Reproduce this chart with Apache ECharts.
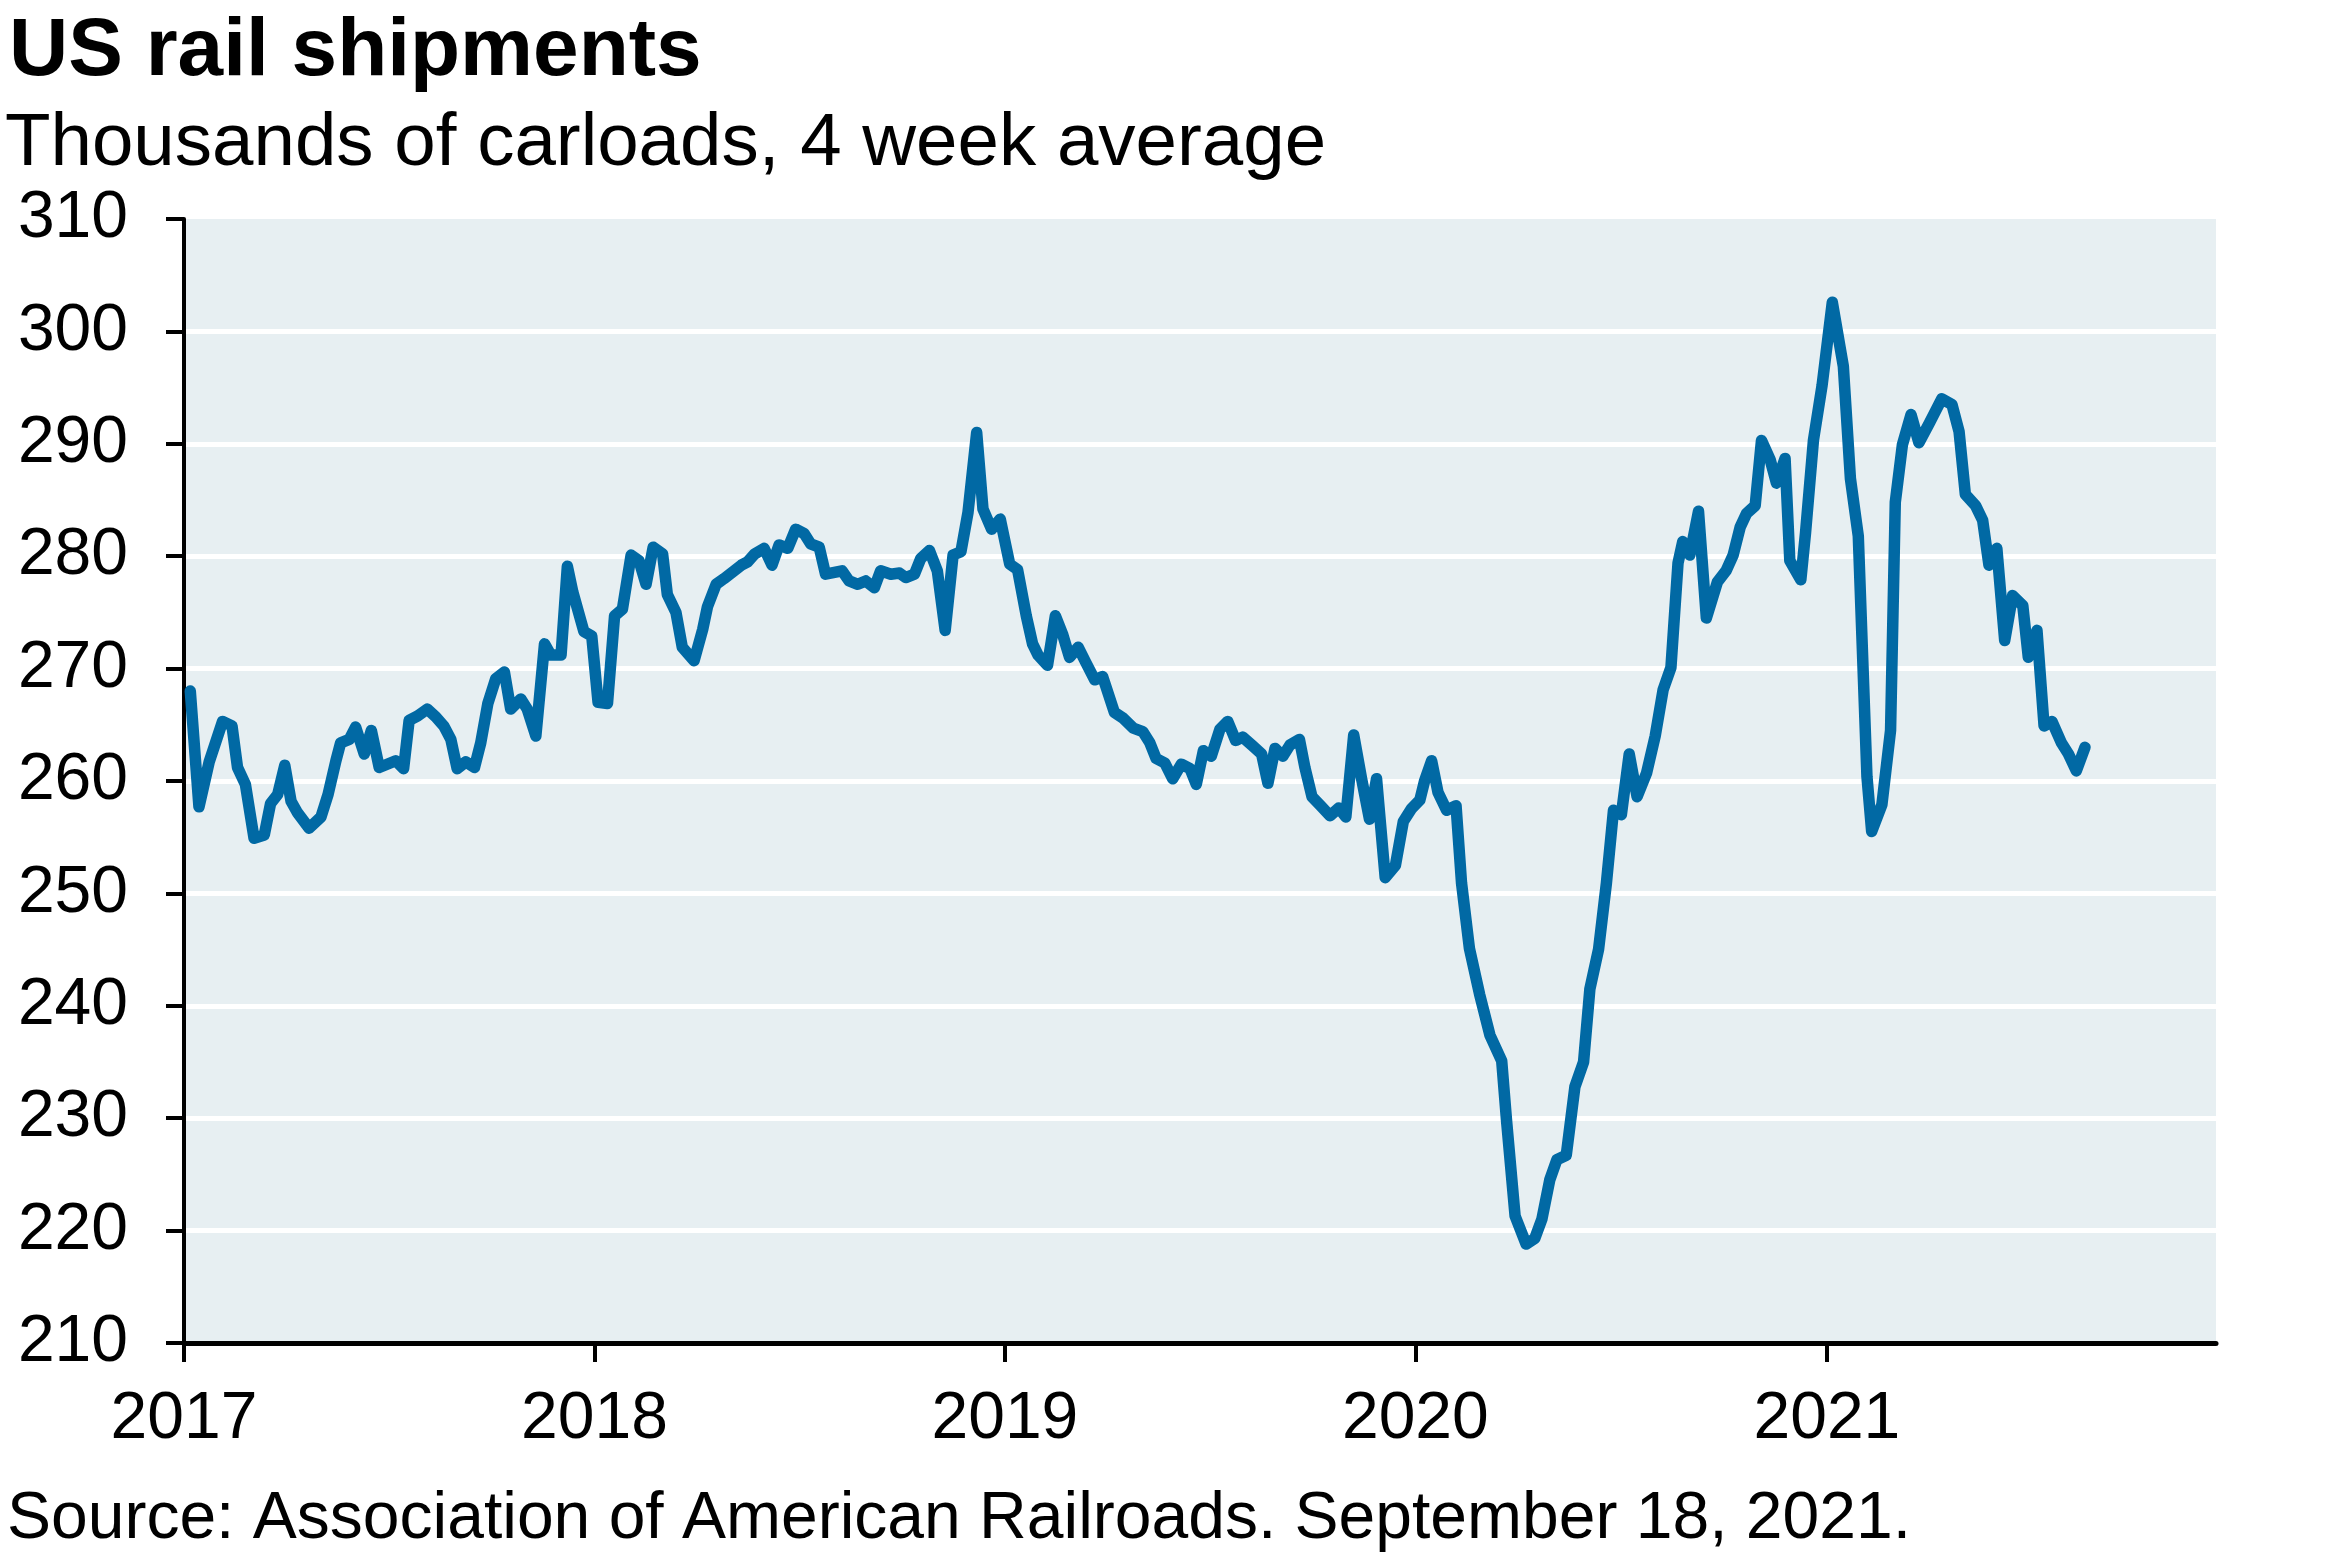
<!DOCTYPE html>
<html>
<head>
<meta charset="utf-8">
<title>US rail shipments</title>
<script src="https://cdn.jsdelivr.net/npm/echarts@6/dist/echarts.min.js"></script>
<style>
  html, body { margin: 0; padding: 0; background: #fff; }
  #chart { width: 2341px; height: 1560px; }
</style>
</head>
<body>
<div id="chart"></div>
<script>
// weekly readings, x = weeks after 1 Jan 2017
const weeksSince2017 = [
  0.8, 1.9, 3.2, 4.9, 6.1, 6.8, 7.8, 8.9, 10.2, 11.0, 11.9, 12.8, 13.6, 14.4, 15.9,
  17.4, 18.3, 19.3, 19.9, 21.0, 21.8, 22.9, 23.8, 24.8, 26.9, 27.9, 28.6, 29.7, 30.9,
  32.0, 33.0, 33.9, 34.7, 35.8, 36.9, 37.7, 38.6, 39.6, 40.7, 41.5, 42.8, 43.6, 44.7,
  45.8, 46.6, 47.9, 48.7, 49.4, 50.8, 51.8, 52.6, 53.8, 54.7, 55.7, 56.8, 57.8, 58.7,
  59.6, 60.8, 61.4, 62.5, 63.3, 64.8, 65.9, 66.5, 67.6, 68.6, 69.7, 70.8, 71.6, 72.5,
  73.7, 74.7, 75.6, 76.7, 77.7, 78.8, 79.6, 80.7, 81.5, 83.6, 84.5, 85.6, 86.6, 87.7,
  88.5, 89.8, 90.9, 91.7, 92.8, 93.6, 94.7, 95.7, 96.7, 97.7, 98.7, 99.6, 100.7, 101.5,
  102.6, 103.7, 104.9, 105.9, 107.0, 107.8, 108.5, 109.7, 110.7, 111.6, 112.5, 113.6,
  114.6, 115.7, 116.7, 118.2, 119.3, 120.6, 121.8, 122.7, 123.5, 124.6, 125.6, 126.7,
  127.8, 128.6, 129.5, 130.5, 131.6, 132.6, 133.6, 134.5, 135.8, 136.9, 137.7, 138.6,
  139.6, 140.5, 141.7, 142.4, 143.3, 144.4, 145.6, 146.7, 147.6, 148.6, 149.6, 150.6,
  151.5, 152.6, 153.9, 154.9, 155.9, 157.0, 157.6, 158.5, 159.3, 160.4, 161.6, 162.3,
  163.3, 164.6, 165.9, 167.4, 168.0, 169.1, 170.5, 171.6, 172.5, 173.5, 174.4, 175.6,
  176.7, 177.8, 178.6, 179.7, 180.7, 181.6, 182.6, 183.6, 184.6, 185.8, 186.9, 187.9,
  188.9, 189.8, 190.4, 191.3, 192.4, 193.4, 194.8, 195.9, 196.8, 197.7, 198.5, 199.6,
  200.4, 201.5, 202.3, 203.4, 204.0, 205.4, 206.0, 207.0, 208.1, 209.4, 210.8, 211.7,
  212.7, 213.8, 214.4, 215.7, 216.8, 217.4, 218.3, 219.4, 220.4, 221.7, 223.3, 224.6,
  225.5, 226.3, 227.6, 228.5, 229.3, 230.3, 231.3, 232.3, 233.6, 234.3, 235.4, 236.3,
  237.3, 238.5, 239.4, 240.4, 241.5
];

// thousands of carloads, 4 week average
const carloads = [
  268.0, 257.7, 261.7, 265.3, 264.9, 261.2, 259.7, 254.9, 255.2, 258.0, 258.8, 261.4, 258.2, 257.2, 255.8,
  256.8, 258.8, 261.8, 263.4, 263.7, 264.8, 262.4, 264.5, 261.2, 261.8, 261.1, 265.4, 265.8, 266.4,
  265.7, 264.9, 263.7, 261.1, 261.7, 261.2, 263.4, 266.9, 269.1, 269.7, 266.4, 267.3, 266.4, 264.0,
  272.2, 271.2, 271.2, 279.1, 276.8, 273.3, 272.9, 267.0, 266.9, 274.7, 275.3, 280.1, 279.6, 277.5,
  280.8, 280.2, 276.6, 275.0, 271.9, 270.7, 273.5, 275.5, 277.5, 278.0, 278.6, 279.2, 279.5, 280.2,
  280.7, 279.2, 281.0, 280.7, 282.4, 282.0, 281.1, 280.8, 278.4, 278.7, 277.8, 277.5, 277.8, 277.2,
  278.7, 278.4, 278.5, 278.1, 278.4, 279.8, 280.5, 278.7, 273.4, 280.1, 280.4, 283.9, 291.0, 284.2,
  282.4, 283.3, 279.3, 278.8, 274.7, 272.2, 271.2, 270.3, 274.7, 273.1, 271.0, 271.9,
  270.5, 269.0, 269.3, 266.1, 265.6, 264.7, 264.4, 263.4, 262.0, 261.6, 260.2, 261.5,
  261.1, 259.7, 262.7, 262.2, 264.6, 265.3, 263.6, 263.9, 263.1, 262.4, 259.8, 262.9,
  262.2, 263.2, 263.7, 261.2, 258.6, 257.8, 256.9, 257.6, 256.8, 264.1, 260.2, 256.6,
  260.2, 251.4, 252.5, 256.4, 257.5, 258.3, 260.0, 261.8, 259.0, 257.4, 257.8, 250.9,
  245.1, 241.0, 237.4, 235.1, 229.9, 221.3, 218.8, 219.3, 221.0, 224.5, 226.3, 226.7,
  232.8, 235.0, 241.5, 245.0, 250.9, 257.4, 257.0, 262.4, 258.6, 260.7, 264.0, 268.1,
  270.1, 279.4, 281.3, 280.1, 284.0, 274.5, 277.7, 278.7, 280.1, 282.6, 283.8, 284.5,
  290.3, 288.6, 286.5, 288.7, 279.6, 277.9, 282.1, 290.3, 295.2, 302.6, 296.9, 286.9,
  281.8, 260.4, 255.5, 257.9, 264.5, 284.8, 289.9, 292.6, 290.1, 291.8, 294.0, 293.5,
  291.1, 285.5, 284.5, 283.2, 279.2, 280.7, 272.5, 276.5, 275.6, 271.0, 273.4, 264.9,
  265.3, 263.4, 262.4, 260.9, 263.0
];

const yearTicks = [2017, 2018, 2019, 2020, 2021];

const START = new Date(2017, 0, 1).getTime();
const WEEK = 7 * 24 * 3600 * 1000;
const toWeeks = d => (d.getTime() - START) / WEEK;
const tickWeeks = yearTicks.map(y => toWeeks(new Date(y, 0, 1)));
const seriesData = weeksSince2017.map((w, i) => [w, carloads[i]]);

// label a tick with the year whose 1 January sits closest to it
const yearOf = v => {
  let bestIdx = 0;
  tickWeeks.forEach((t, i) => {
    if (Math.abs(t - v) < Math.abs(tickWeeks[bestIdx] - v)) bestIdx = i;
  });
  return String(yearTicks[bestIdx]);
};

const FONT = '"Liberation Sans", Arial, sans-serif';

const chart = echarts.init(document.getElementById('chart'), null, { renderer: 'canvas' });

chart.setOption({
  animation: false,
  backgroundColor: '#ffffff',
  title: [
    {
      text: 'US rail shipments',
      left: 4, top: 6,
      textStyle: { fontFamily: FONT, fontSize: 82, fontWeight: 'bold', color: '#000' }
    },
    {
      text: 'Thousands of carloads, 4 week average',
      left: 0, top: 102,
      textStyle: { fontFamily: FONT, fontSize: 74.5, fontWeight: 'normal', color: '#000' }
    },
    {
      text: 'Source: Association of American Railroads. September 18, 2021.',
      left: 2, top: 1482,
      textStyle: { fontFamily: FONT, fontSize: 66, fontWeight: 'normal', color: '#000' }
    }
  ],
  grid: {
    left: 184, top: 219, width: 2032, height: 1124,
    show: true, backgroundColor: '#e7eff2', borderWidth: 0
  },
  xAxis: {
    type: 'value',
    min: 0,
    max: toWeeks(new Date(2021, 11, 13)),
    axisLine: { show: true, lineStyle: { color: '#000', width: 5 } },
    axisTick: { show: true, length: 19, lineStyle: { color: '#000', width: 4 }, customValues: tickWeeks },
    axisLabel: {
      customValues: tickWeeks,
      margin: 44,
      fontFamily: FONT, fontSize: 66, color: '#000',
      formatter: v => yearOf(v)
    },
    splitLine: { show: false }
  },
  yAxis: {
    type: 'value',
    min: 210, max: 310, interval: 10,
    axisLine: { show: true, lineStyle: { color: '#000', width: 4 } },
    axisTick: { show: true, length: 18, lineStyle: { color: '#000', width: 4 } },
    axisLabel: { margin: 56, fontFamily: FONT, fontSize: 66, color: '#000' },
    splitLine: { show: true, showMinLine: false, showMaxLine: false, lineStyle: { color: '#ffffff', width: 5 } }
  },
  series: [{
    type: 'line',
    data: seriesData,
    showSymbol: false,
    symbol: 'none',
    lineStyle: { color: '#0169a4', width: 11.5, cap: 'round', join: 'round' }
  }]
});
</script>
</body>
</html>
